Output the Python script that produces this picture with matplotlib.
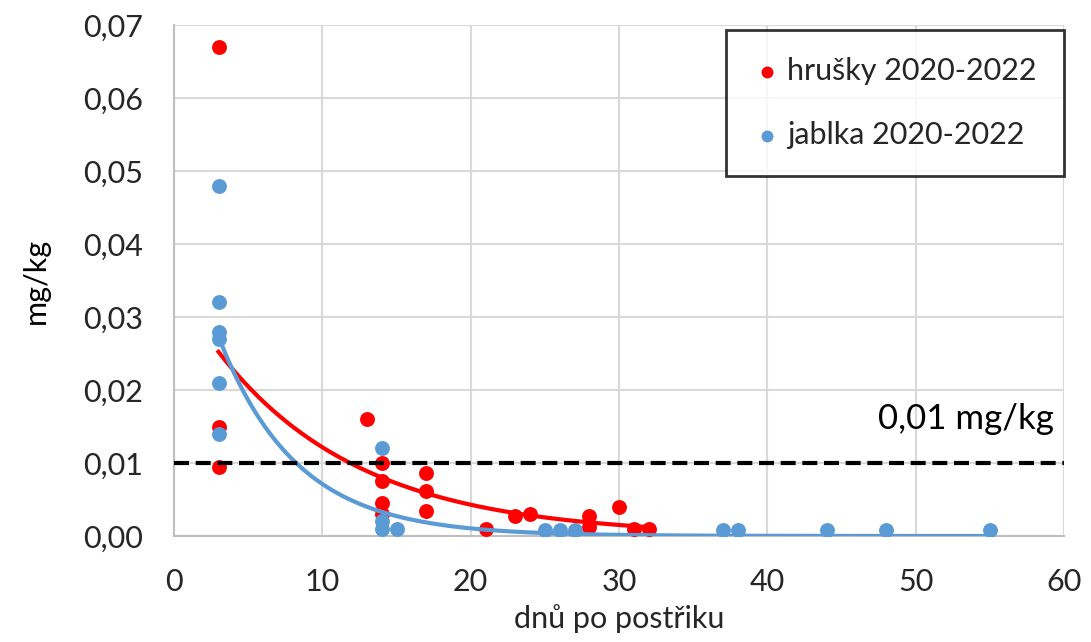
import numpy as np
import matplotlib
matplotlib.use("Agg")
import matplotlib.pyplot as plt
from matplotlib.ticker import FuncFormatter

plt.rcParams['font.family'] = ['Lato', 'DejaVu Sans']

# Residues of pears (hrušky) by days after spraying
pear_days = [3, 3, 3, 13, 14, 14, 14, 14, 17, 17, 17, 21, 23, 24, 28, 28, 30, 31, 32]
pear_vals = [0.067, 0.015, 0.0095, 0.016, 0.010, 0.0075, 0.0045, 0.003, 0.0086, 0.0062, 0.0034,
             0.001, 0.0027, 0.003, 0.0027, 0.0012, 0.004, 0.001, 0.001]

# Residues of apples (jablka) by days after spraying
apple_days = [3, 3, 3, 3, 3, 3, 14, 14, 14, 15, 25, 26, 27, 37, 38, 44, 48, 55]
apple_vals = [0.048, 0.032, 0.028, 0.027, 0.021, 0.014, 0.012, 0.002, 0.001, 0.001,
              0.0008, 0.0008, 0.0008, 0.0008, 0.0008, 0.0008, 0.0008, 0.0008]

# Exponential trend lines y = a * exp(-b * x), drawn from x0 to x1
pear_trend = (0.0345, 0.1043, 3, 32)
apple_trend = (0.0486, 0.192, 3, 55)

limit = 0.01
limit_label = "0,01 mg/kg"

red = "#FF0000"
blue = "#5B9BD5"
text_color = "#262626"

fig = plt.figure(figsize=(10.91, 6.42), dpi=100)
ax = fig.add_axes([174 / 1091, 1 - 536 / 642, (1064 - 174) / 1091, (536 - 25) / 642])

ax.set_xlim(0, 60)
ax.set_ylim(0, 0.07)
ax.set_xticks(np.arange(0, 61, 10))
ax.set_yticks(np.arange(0, 0.0701, 0.01))
ax.yaxis.set_major_formatter(FuncFormatter(lambda v, p: f"{v:.2f}".replace(".", ",")))
ax.grid(True, color="#D9D9D9", linewidth=1.5)
ax.set_axisbelow(True)
for s in ax.spines.values():
    s.set_visible(False)
for side in ("left", "bottom"):
    ax.spines[side].set_visible(True)
    ax.spines[side].set_color("#BFBFBF")
    ax.spines[side].set_linewidth(1.5)
ax.tick_params(length=0, labelsize=22, colors=text_color)
ax.tick_params(axis="x", pad=23)
ax.tick_params(axis="y", pad=22)

ax.scatter(pear_days, pear_vals, s=115, color=red, zorder=3, label="hrušky 2020-2022", linewidths=0)
ax.scatter(apple_days, apple_vals, s=115, color=blue, zorder=3, label="jablka 2020-2022", linewidths=0)

for (a, b, x0, x1), c in [(pear_trend, red), (apple_trend, blue)]:
    xs = np.linspace(x0, x1, 300)
    ax.plot(xs, a * np.exp(-b * xs), color=c, linewidth=3, zorder=4)

ax.axhline(limit, color="black", linewidth=3, dashes=(3.6, 1.6), zorder=5)
ax.text(59.3, 0.0146, limit_label, fontsize=25, ha="right", va="baseline", color="#000000")

ax.set_xlabel("dnů po postřiku", fontsize=22, color=text_color, labelpad=6)
ax.set_ylabel("mg/kg", fontsize=22, color="#000000", labelpad=24)

leg = ax.legend(loc="upper right", bbox_to_anchor=(1.0, 1 - 5 / 511), fontsize=22, frameon=True,
                fancybox=False, edgecolor="black", handletextpad=0.2, borderpad=0.9,
                labelspacing=1.15, handlelength=0.9, scatterpoints=1, markerscale=0.8,
                borderaxespad=0)
leg.get_frame().set_linewidth(2)
for t in leg.get_texts():
    t.set_color(text_color)

fig.savefig("out.png", dpi=100)
